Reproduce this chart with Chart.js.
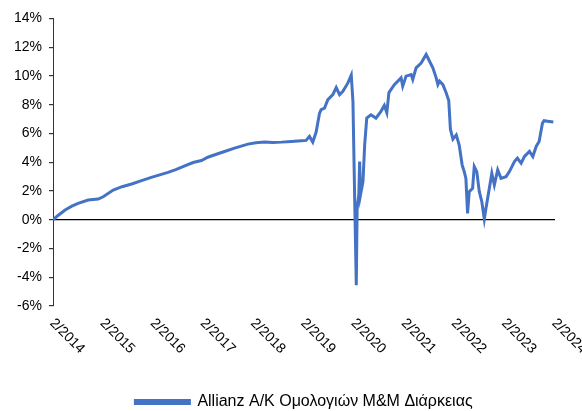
<!DOCTYPE html>
<html>
<head>
<meta charset="utf-8">
<script src="https://cdn.jsdelivr.net/npm/chart.js@4/dist/chart.umd.min.js"></script>
<style>
  html, body { margin: 0; padding: 0; background: #fff; }
  #wrap { width: 582px; height: 411px; }
</style>
</head>
<body>
<div id="wrap"><canvas id="myChart"></canvas></div>
<script>
// months since 2/2014
const months = [0, 1.2, 2.9, 4.5, 6, 8.4, 10.8, 12, 14.4, 16.5, 18.8, 21, 23.5, 25.5, 27.5, 29.5, 31.5, 33.5, 35.5, 37,
  38.7, 41, 43.4, 45, 46.6, 48.5, 50.6, 52.5, 54.6, 57, 59.4, 60.5, 61.3, 62.1, 62.9, 63.7, 64.1, 64.9, 65.7, 66.9,
  67.7, 68.5, 69.3, 70.5, 71.3, 71.7, 71.9, 72.2, 72.5, 72.7, 73.1, 73.3, 73.5, 74.1, 74.5, 75, 76, 77.2, 78.4, 79.2,
  79.8, 80.3, 81.6, 83.2, 83.6, 84.4, 85.6, 86, 86.8, 88, 89.2, 89.8, 90.8, 91.6, 92, 92.4, 93.2, 94, 94.6, 95,
  95.6, 96.4, 97.1, 97.8, 98.3, 98.7, 99.1, 99.5, 100.3, 100.7, 101.3, 101.9, 102.5, 103.1, 103.5, 104.3, 104.9, 105.5, 106.3, 107.1,
  108.3, 109.1, 110.3, 111, 111.9, 112.7, 113.9, 114.7, 115.5, 116.2, 117, 117.4, 118.6, 119.6];

// cumulative return, %
const returns = [0, 0.3, 0.68, 0.95, 1.14, 1.37, 1.44, 1.6, 2.07, 2.3, 2.49, 2.7, 2.95, 3.12, 3.3, 3.5, 3.75, 3.98, 4.12, 4.35,
  4.52, 4.75, 4.98, 5.12, 5.26, 5.35, 5.4, 5.38, 5.4, 5.45, 5.5, 5.52, 5.8, 5.4, 6.1, 7.4, 7.66, 7.77, 8.36, 8.7,
  9.2, 8.7, 8.94, 9.52, 10.06, 8.24, 4.98, 0.1, -4.56, 0.8, 1.72, 4.05, 1.72, 2.65, 5.2, 7.07, 7.3, 7.07, 7.54, 7.95,
  7.45, 8.85, 9.4, 9.87, 9.29, 9.99, 10.1, 9.76, 10.57, 10.9, 11.5, 11.15, 10.57, 9.87, 9.4, 9.64, 9.4, 8.82, 8.3, 6.3,
  5.6, 5.9, 5.2, 3.82, 3.35, 2.88, 0.44, 1.96, 2.19, 3.7, 3.35, 1.96, 1.26, 0.05, 0.8, 2.19, 3.23, 2.42, 3.47, 2.88,
  3.0, 3.35, 4.05, 4.28, 3.93, 4.4, 4.75, 4.4, 5.1, 5.45, 6.72, 6.89, 6.84, 6.8];

const tickLabels = ['2/2014', '2/2015', '2/2016', '2/2017', '2/2018', '2/2019', '2/2020', '2/2021', '2/2022', '2/2023', '2/2024'];

const seriesName = 'Allianz A/K Ομολογιών Μ&Μ Διάρκειας';
const lineColor = '#4472C4';
const fontFamily = '"Liberation Sans", Arial, sans-serif';

// x labels go down to the right, so draw them ourselves
const slantedLabels = {
  id: 'slantedLabels',
  afterDraw(chart) {
    const xScale = chart.scales.x;
    const ctx = chart.ctx;
    ctx.save();
    ctx.fillStyle = '#000';
    ctx.font = '14px ' + fontFamily;
    ctx.textAlign = 'left';
    ctx.textBaseline = 'middle';
    xScale.ticks.forEach((tick, i) => {
      const x = xScale.getPixelForValue(tick.value);
      ctx.save();
      ctx.translate(x - 1, chart.chartArea.bottom + 15);
      ctx.rotate(Math.PI / 4);
      ctx.fillText(tickLabels[i] || '', 0, 0);
      ctx.restore();
    });
    ctx.restore();
  }
};

const ctx = document.getElementById('myChart').getContext('2d');

new Chart(ctx, {
  type: 'line',
  data: {
    datasets: [{
      label: seriesName,
      data: months.map((m, i) => ({ x: m, y: returns[i] })),
      borderColor: lineColor,
      backgroundColor: lineColor,
      borderWidth: 3,
      pointRadius: 0,
      tension: 0
    }]
  },
  options: {
    responsive: true,
    maintainAspectRatio: false,
    animation: false,
    layout: { padding: { top: 18.5, right: 27, left: 0, bottom: -9 } },
    plugins: {
      tooltip: { enabled: false },
      legend: {
        position: 'bottom',
        fullSize: false,
        labels: {
          color: '#000',
          font: { family: fontFamily, size: 16 },
          boxWidth: 54,
          boxHeight: 3,
          padding: 0
        }
      }
    },
    scales: {
      x: {
        type: 'linear',
        min: 0,
        max: 120,
        border: { display: false },
        grid: { display: false },
        ticks: { stepSize: 12, display: false },
        afterFit(scale) { scale.height = 88; }
      },
      y: {
        min: -6,
        max: 14,
        border: { display: true, color: '#333', width: 1 },
        grid: {
          drawOnChartArea: true,
          color: (c) => c.tick && c.tick.value === 0 ? '#000' : 'rgba(0,0,0,0)',
          lineWidth: 1.2,
          tickColor: '#333',
          tickLength: 4
        },
        ticks: {
          stepSize: 2,
          color: '#000',
          padding: 7,
          font: { family: fontFamily, size: 14 },
          callback: (v) => v + '%'
        },
        afterFit(scale) { scale.width = 53; }
      }
    }
  },
  plugins: [slantedLabels]
});
</script>
</body>
</html>
